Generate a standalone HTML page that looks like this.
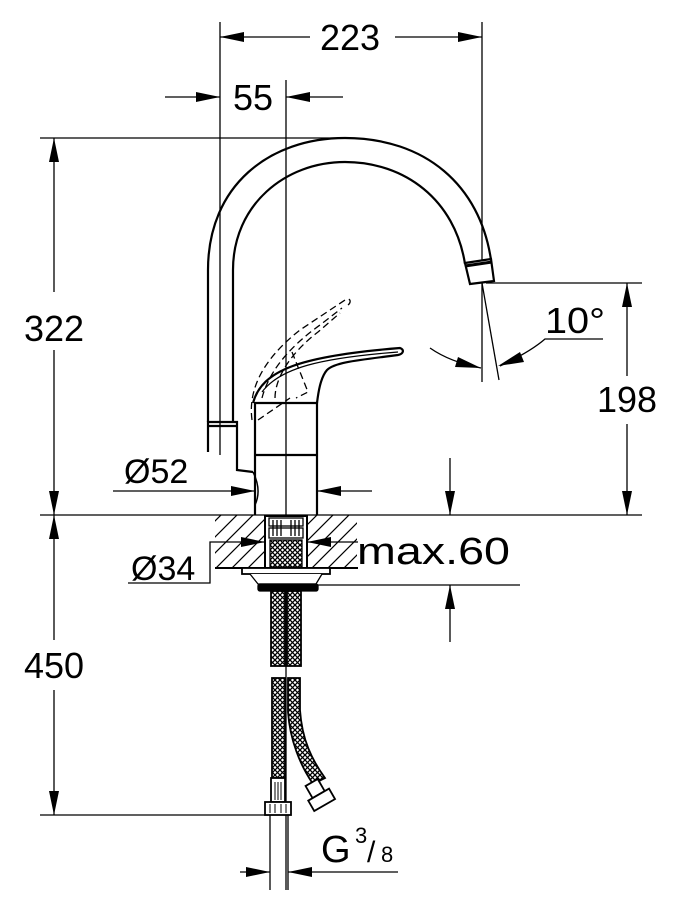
<!DOCTYPE html>
<html><head><meta charset="utf-8"><style>
html,body{margin:0;padding:0;background:#fff;}
svg{display:block;}
text{font-family:"Liberation Sans",sans-serif;fill:#000;}
</style></head><body>
<svg width="676" height="898" viewBox="0 0 676 898" xmlns="http://www.w3.org/2000/svg">
<defs>
<pattern id="mesh" width="5" height="5" patternUnits="userSpaceOnUse">
<rect width="5" height="5" fill="#fff"/>
<path d="M0,0L5,5M5,0L0,5" stroke="#000" stroke-width="1.3"/>
</pattern>
<pattern id="hatch" width="16" height="16" patternUnits="userSpaceOnUse">
<path d="M-4,20L20,-4M-4,4L4,-4M12,20L20,12" stroke="#000" stroke-width="1.2"/>
</pattern>
</defs>
<g stroke="#000" fill="none" stroke-width="1.3">
<line x1="286" y1="80" x2="286" y2="890"/>
<line x1="220" y1="22" x2="220" y2="455"/>
<line x1="482" y1="22" x2="482" y2="382"/>
<line x1="482" y1="283" x2="499" y2="380"/>
<line x1="40" y1="138" x2="345" y2="138"/>
<line x1="40" y1="515" x2="642" y2="515"/>
<line x1="486" y1="283" x2="642" y2="283"/>
<line x1="40" y1="815" x2="268" y2="815"/>
<line x1="220" y1="37" x2="310" y2="37"/><line x1="395" y1="37" x2="482" y2="37"/>
<line x1="165" y1="97" x2="220" y2="97"/><line x1="286" y1="97" x2="343" y2="97"/>
<line x1="54" y1="138" x2="54" y2="292"/><line x1="54" y1="350" x2="54" y2="515"/>
<line x1="54" y1="515" x2="54" y2="640"/><line x1="54" y1="690" x2="54" y2="815"/>
<line x1="627" y1="283" x2="627" y2="376"/><line x1="627" y1="424" x2="627" y2="515"/>
<path d="M430,348 Q450,362 481,368"/>
<path d="M500,366 Q530,352 545,339 L603,339"/>
<line x1="113" y1="491" x2="255" y2="491"/><line x1="317" y1="491" x2="372" y2="491"/>
<path d="M128,583 L210,583 L210,542 L265,542"/><line x1="307" y1="542" x2="358" y2="542"/>
<line x1="450" y1="458" x2="450" y2="515"/>
<line x1="300" y1="585" x2="520" y2="585"/><line x1="450" y1="585" x2="450" y2="642"/>
<line x1="240" y1="872" x2="270" y2="872"/><line x1="288" y1="872" x2="398" y2="872"/>
</g>
<g fill="#000">
<polygon points="220,37 244,32 244,42"/><polygon points="482,37 458,32 458,42"/>
<polygon points="220,97 196,92 196,102"/><polygon points="286,97 310,92 310,102"/>
<polygon points="54,138 49,162 59,162"/><polygon points="54,515 49,491 59,491"/>
<polygon points="54,515 49,539 59,539"/><polygon points="54,815 49,791 59,791"/>
<polygon points="627,283 622,307 632,307"/><polygon points="627,515 622,491 632,491"/>
<polygon points="481,368 458,357 455,367"/><polygon points="498,366 520,352 524,362"/>
<polygon points="255,491 231,486 231,496"/><polygon points="317,491 341,486 341,496"/>
<polygon points="265,542 241,537 241,547"/><polygon points="307,542 331,537 331,547"/>
<polygon points="450,515 445,491 455,491"/><polygon points="450,585 445,609 455,609"/>
<polygon points="270,872 246,867 246,877"/><polygon points="288,872 312,867 312,877"/>
</g>
<g stroke="#000" fill="none" stroke-width="2.2">
<path d="M208,422 L208,270 C208,185 270,138 345,138 C425,138 480,185 491,260"/>
<path d="M233,422 L233,270 C233,205 285,162 345,162 C405,162 455,200 465,264"/>
<path d="M465,263 L491,259 L494,281 L470,284 Z" fill="#fff"/>
<line x1="465" y1="266" x2="492" y2="262" stroke-width="3"/>
<path d="M208,452 L208,422 L237,422 L237,470 L253,472"/>
<line x1="208" y1="426" x2="237" y2="426"/>
<path d="M255,515 L255,403 L317,403 L317,515"/>
<path d="M253,472 Q262,490 255,505" stroke-width="1.5"/>
<line x1="255" y1="455" x2="317" y2="455"/>
<path d="M253,403 C262,370 300,356 400,348 C405,350 403,354 398,355 C360,360 335,362 327,370 C320,378 318,395 317,403"/>
<path d="M262,392 C280,368 320,358 398,352" stroke-width="1.2"/>
</g>
<g stroke="#000" fill="none" stroke-width="1.3" stroke-dasharray="7,4">
<path d="M252,420 C248,390 262,360 300,330 L345,300 C350,297 352,302 348,305"/>
<path d="M262,398 C268,375 285,350 320,325 L342,308"/>
<path d="M275,398 C275,380 288,355 318,332 L340,313"/>
<path d="M292,352 L308,392 L296,398"/>
<path d="M258,420 L290,398"/>
</g>
<g stroke="#000" stroke-width="1.3">
<rect x="215" y="515" width="50" height="53" fill="url(#hatch)" stroke="none"/>
<rect x="307" y="515" width="50" height="53" fill="url(#hatch)" stroke="none"/>
<line x1="215" y1="568" x2="358" y2="568" stroke-width="2"/>
<rect x="265" y="516" width="42" height="52" fill="#fff" stroke-width="2"/>
<rect x="269" y="518" width="34" height="8" fill="#fff"/>
<rect x="269" y="528" width="34" height="10" fill="#fff"/>
<path d="M273,520V536M277,520V536M281,520V536M291,520V536M295,520V536M299,520V536"/>
<rect x="270" y="540" width="32" height="27" fill="url(#mesh)"/>
<rect x="242" y="568" width="88" height="6" fill="#fff" stroke-width="1.8"/>
<path d="M250,574 L258,584 L316,584 L322,574" fill="#fff"/>
<rect x="258" y="584" width="60" height="7" rx="2" fill="#000"/>
</g>
<g stroke="#000" stroke-width="1.8">
<rect x="271" y="591" width="14" height="75" fill="url(#mesh)"/>
<rect x="287" y="591" width="14" height="75" fill="url(#mesh)"/>
<rect x="272" y="678" width="13" height="100" fill="url(#mesh)"/>
<path d="M288,678 L300,678 L300,710 C302,740 312,760 325,778 L313,784 C300,765 290,740 288,712 Z" fill="url(#mesh)"/>
<rect x="271" y="778" width="14" height="24" fill="#fff"/>
<path d="M275,782V800M278,782V800M281,782V800" stroke-width="1"/>
<rect x="265" y="802" width="26" height="13" fill="#fff"/>
<path d="M270,804V813M275,804V813M281,804V813M286,804V813" stroke-width="1"/>
<g transform="rotate(-30 320 795)">
<rect x="312" y="780" width="14" height="14" fill="#fff"/>
<rect x="307" y="794" width="24" height="12" fill="#fff"/>
</g>
<line x1="270" y1="815" x2="270" y2="890" stroke-width="1.3"/>
<line x1="288" y1="815" x2="288" y2="890" stroke-width="1.3"/>
</g>
<g font-size="36">
<text x="350" y="50" text-anchor="middle">223</text>
<text x="253" y="110" text-anchor="middle">55</text>
<text x="54" y="341" text-anchor="middle">322</text>
<text x="54" y="678" text-anchor="middle">450</text>
<text x="627" y="412" text-anchor="middle">198</text>
<text x="545" y="333" font-size="36" textLength="60" lengthAdjust="spacingAndGlyphs">10°</text>
<text x="124" y="483" font-size="34">Ø52</text>
<text x="131" y="580" font-size="34">Ø34</text>
<text x="357" y="564" font-size="38" textLength="153" lengthAdjust="spacingAndGlyphs">max.60</text>
<text x="321" y="862" font-size="38">G</text>
<text x="355" y="843" font-size="22">3</text>
<text x="367" y="862" font-size="30">/</text>
<text x="381" y="862" font-size="22">8</text>
</g>
</svg>
</body></html>
